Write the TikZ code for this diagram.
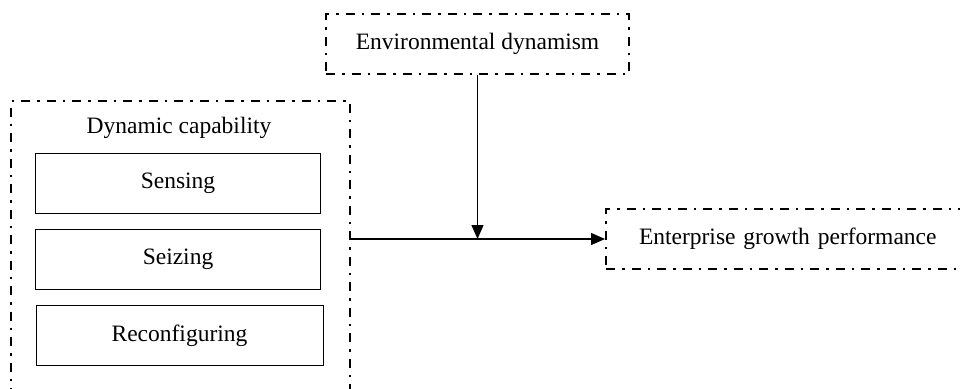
\documentclass[tikz,border=0pt]{standalone}
\usepackage{fontspec}
\setmainfont{Liberation Serif}
\usetikzlibrary{arrows,arrows.meta,positioning}

\begin{document}
\begin{tikzpicture}[x=1pt,y=-1pt,>={Triangle[length=14pt,width=12pt]},node distance=15pt,
      dashdot/.style={draw, line width=2pt, dash pattern=on 9pt off 7pt on 2.5pt off 7pt},
      part/.style={draw, line width=1pt, minimum width=285pt, minimum height=60pt, font=\fontsize{23.5}{27}\selectfont},
      var/.style={dashdot, minimum height=60pt, font=\fontsize{23.5}{27}\selectfont}]
     \clip (0,0) rectangle (960,388);
     \node[dashdot, minimum width=339pt, minimum height=310pt, anchor=north west] (dyncap) at (10,100) {};
     \node[font=\fontsize{23.5}{27}\selectfont, anchor=center] (title) at (179,128) {Dynamic capability};
     \node[part, anchor=north west] (sensing) at (35,153) {Sensing};
     \node[part, below = of sensing] (seizing) {Seizing};
     \node[part, minimum width=287pt, below = of seizing, xshift=1.5pt] (reconf) {Reconfiguring};
     \node[var, minimum width=303pt, anchor=north west] (envdyn) at (325,13) {Environmental dynamism};
     \node[var, minimum width=380pt, anchor=north west, text width=340pt, align=left] (growth) at (605,208) {\hspace*{13pt}Enterprise growth performance};
     \coordinate (join) at (envdyn.south |- growth.west);
     \draw[->, line width=1.3pt] (dyncap.east |- growth.west) -- (growth.west);
     \draw[->, line width=1.3pt] (envdyn.south) -- (join);
    \end{tikzpicture}
\end{document}
